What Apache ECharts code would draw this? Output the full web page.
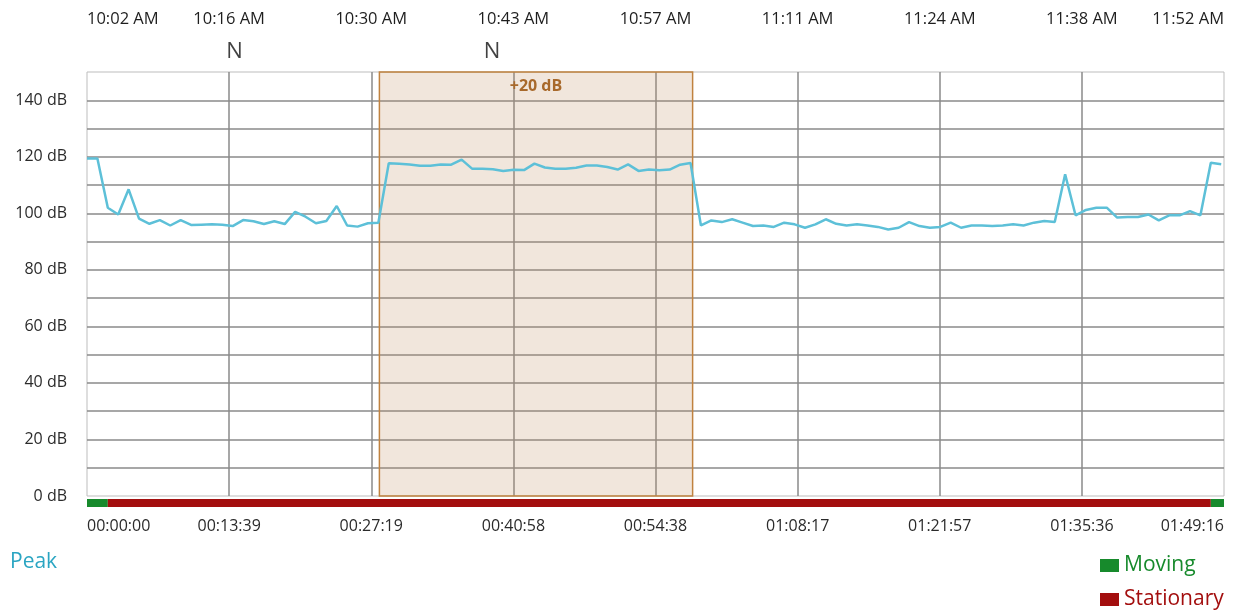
<!DOCTYPE html>
<html><head><meta charset="utf-8">
<script src="https://cdn.jsdelivr.net/npm/echarts@6/dist/echarts.min.js"></script>
<style>html,body{margin:0;padding:0;background:#fff}#c{width:1234px;height:610px}</style>
</head><body><div id="c"></div>
<script>
// ---- data ----
const elapsedLabels = ['00:00:00','00:13:39','00:27:19','00:40:58','00:54:38','01:08:17','01:21:57','01:35:36','01:49:16'];
const clockLabels = ['10:02 AM','10:16 AM','10:30 AM','10:43 AM','10:57 AM','11:11 AM','11:24 AM','11:38 AM','11:52 AM'];
const axisMaxSeconds = 6556;
const tickSeconds = 819.5;
const sampleSeconds = 60;
const peakValues = [
  119.4,119.4,102,99.6,108.5,98.1,96.3,97.6,95.7,97.6,
  95.9,96,96.1,96,95.5,97.6,97.2,96.2,97.2,96.2,
  100.5,98.8,96.5,97.3,102.6,95.7,95.3,96.5,96.7,117.7,
  117.5,117.3,116.8,116.8,117.3,117.2,119,115.8,115.8,115.6,
  115,115.4,115.3,117.6,116.2,115.8,115.8,116.1,116.9,116.9,
  116.4,115.5,117.3,115,115.5,115.2,115.5,117.2,117.8,95.7,
  97.5,96.9,97.9,96.7,95.5,95.7,95.2,96.7,96.1,94.9,
  96.1,97.9,96.3,95.7,96.1,95.7,95.2,94.3,94.9,96.9,
  95.5,94.9,95.2,96.7,94.9,95.7,95.7,95.5,95.7,96.1,
  95.7,96.7,97.3,96.9,113.8,99.3,101.2,102,102,98.5,
  98.7,98.7,99.6,97.5,99.3,99.3,100.8,99.3,117.9,117.4
];
const noteTimes = [850, 2335];
const noteTexts = ['N', 'N'];
const noteLevel = 157;
const boxStartSeconds = 1686;
const boxEndSeconds = 3492;
const boxLabel = '+20 dB';
const statusNames = ['Moving', 'Stationary', 'Moving'];
const statusDurations = [120, 6360, 76];
const statusColorMap = { 'Moving': '#178a2c', 'Stationary': '#a30e0e' };
const statusLegendNames = ['Moving', 'Stationary'];

// ---- chart ----
const FONT = "'Segoe UI','Open Sans',sans-serif";
const peakData = peakValues.map((v, i) => [i * sampleSeconds, v]);
const labelByTick = (arr) => (v) => arr[Math.round(v / tickSeconds)] || '';

const statusSeries = statusNames.map((n, i) => ({
  name: n, type: 'bar', stack: 'status', xAxisIndex: 2, yAxisIndex: 1,
  barWidth: '100%', silent: true,
  itemStyle: { color: statusColorMap[n] },
  data: [statusDurations[i]]
}));

const statusLegends = statusLegendNames.map((n, i) => ({
  left: 1095, top: 550 + i * 34, itemWidth: 19, itemHeight: 13, selectedMode: false,
  textStyle: { fontSize: 21, fontFamily: FONT, color: statusColorMap[n] },
  data: [{ name: n, icon: 'rect' }]
}));

const chart = echarts.init(document.getElementById('c'), null, { renderer: 'canvas' });
chart.setOption({
  animation: false,
  backgroundColor: '#fff',
  textStyle: { fontFamily: FONT },
  grid: [
    { left: 87, right: 10, top: 72, bottom: 114, show: true, borderColor: '#bdbdbd', borderWidth: 1, backgroundColor: '#fff' },
    { left: 87, right: 10, top: 499, height: 8 }
  ],
  legend: [
    { left: 5, top: 552, padding: 0, itemWidth: 0, itemGap: 10, icon: 'none', selectedMode: false,
      textStyle: { fontSize: 21, fontFamily: FONT, color: '#2aa5c2' },
      data: [{ name: 'Peak', textStyle: { color: '#2aa5c2' } }] },
    ...statusLegends
  ],
  xAxis: [
    { type: 'value', gridIndex: 0, min: 0, max: axisMaxSeconds, interval: tickSeconds, position: 'bottom',
      axisLine: { show: false }, axisTick: { show: false },
      splitLine: { show: true, showMinLine: false, showMaxLine: false, lineStyle: { color: '#8a8a8a', width: 1.5 } },
      axisLabel: { margin: 22, fontSize: 16, color: '#2b2b2b', fontFamily: FONT,
        alignMinLabel: 'left', alignMaxLabel: 'right', formatter: labelByTick(elapsedLabels) } },
    { type: 'value', gridIndex: 0, min: 0, max: axisMaxSeconds, interval: tickSeconds, position: 'top',
      axisLine: { show: false }, axisTick: { show: false }, splitLine: { show: false },
      axisLabel: { margin: 44, fontSize: 16.5, color: '#1e1e1e', fontFamily: FONT,
        alignMinLabel: 'left', alignMaxLabel: 'right', formatter: labelByTick(clockLabels) } },
    { type: 'value', gridIndex: 1, min: 0, max: axisMaxSeconds, show: false }
  ],
  yAxis: [
    { type: 'value', gridIndex: 0, min: 0, max: 150, interval: 10,
      axisLine: { show: false }, axisTick: { show: false },
      splitLine: { show: true, showMinLine: false, showMaxLine: false, lineStyle: { color: '#8a8a8a', width: 1.5 } },
      axisLabel: { margin: 20, fontSize: 16, color: '#2b2b2b', fontFamily: FONT,
        formatter: (v) => (v % 20 === 0 ? v + ' dB' : '') } },
    { type: 'category', gridIndex: 1, data: ['status'], show: false }
  ],
  series: [
    { name: 'Peak', type: 'line', xAxisIndex: 0, yAxisIndex: 0, data: peakData,
      symbol: 'none', smooth: false, z: 5,
      lineStyle: { color: '#5dc0d8', width: 2.5 }, itemStyle: { color: '#5dc0d8' },
      markArea: {
        silent: true,
        itemStyle: { color: 'rgba(190,140,95,0.22)', borderColor: '#c0823f', borderWidth: 1.5 },
        label: { show: true, position: 'insideTop', distance: 7, color: '#a8692b', fontWeight: 'bold', fontSize: 16, fontFamily: FONT },
        data: [[{ name: boxLabel, xAxis: boxStartSeconds, yAxis: 0 }, { xAxis: boxEndSeconds, yAxis: 150 }]]
      } },
    { name: 'notes', type: 'scatter', xAxisIndex: 0, yAxisIndex: 0, clip: false, silent: true,
      symbolSize: 0,
      label: { show: true, position: 'inside', fontSize: 22, color: '#111', fontFamily: FONT,
        formatter: (p) => noteTexts[p.dataIndex] },
      emphasis: { disabled: true },
      data: noteTimes.map((t) => [t, noteLevel]) },
    ...statusSeries
  ]
});
</script>
</body></html>
